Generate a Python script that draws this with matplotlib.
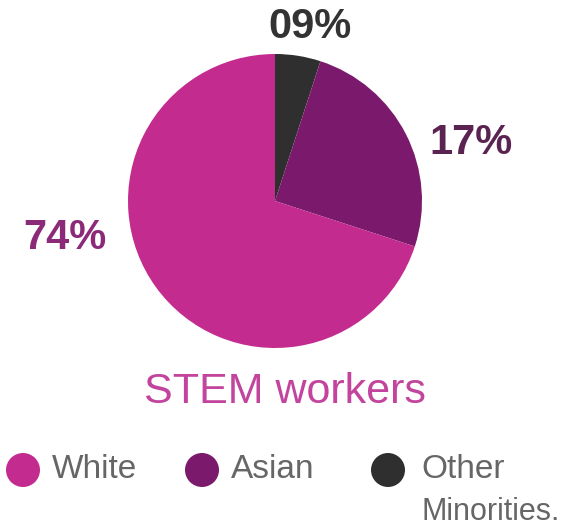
import matplotlib.pyplot as plt
from matplotlib.patches import Circle

# slice sizes as drawn (share of the circle), labels as printed
groups = ["Other\nMinorities.", "Asian", "White"]
shares = [5, 25, 70]
pct_labels = ["09%", "17%", "74%"]
colors = ["#2f2f2f", "#7b1a6c", "#c42b8f"]
label_colors = ["#333333", "#5a2352", "#8a2a78"]

W, H = 572, 529
plt.rcParams['font.family'] = ['Liberation Sans', 'DejaVu Sans']

fig = plt.figure(figsize=(W / 100, H / 100), dpi=100)
ax = fig.add_axes([0, 0, 1, 1])

# pixel y from top -> data y
def py(y):
  return H - y

ax.pie(shares, colors=colors, startangle=90, counterclock=False,
       center=(275, py(201)), radius=147, frame=True,
       wedgeprops=dict(linewidth=0))
ax.set_xlim(0, W)
ax.set_ylim(0, H)
ax.set_aspect('equal')
ax.axis('off')

# percent labels
label_pos = [(310, 27), (471, 143), (65, 238)]
for (x, y), t, c in zip(label_pos, pct_labels, label_colors):
  ax.text(x, py(y), t, ha='center', va='center', fontsize=30,
          fontweight='bold', color=c)

ax.text(285, py(392), "STEM workers", ha='center', va='center',
        fontsize=31, color="#c2449c")

# legend
legend_order = [2, 1, 0]
circle_x = [23, 202, 388]
text_x = [52, 231, 421]
for i, cx, tx in zip(legend_order, circle_x, text_x):
  ax.add_patch(Circle((cx, py(470)), 17, color=colors[i], lw=0))
  name = groups[i].split("\n")
  ax.text(tx, py(470), name[0], ha='left', va='center', fontsize=24,
          color="#666666")
  if len(name) > 1:
    ax.text(tx + 1, py(512), name[1], ha='left', va='center', fontsize=22,
            color="#666666")

fig.savefig("out.png", dpi=100)
